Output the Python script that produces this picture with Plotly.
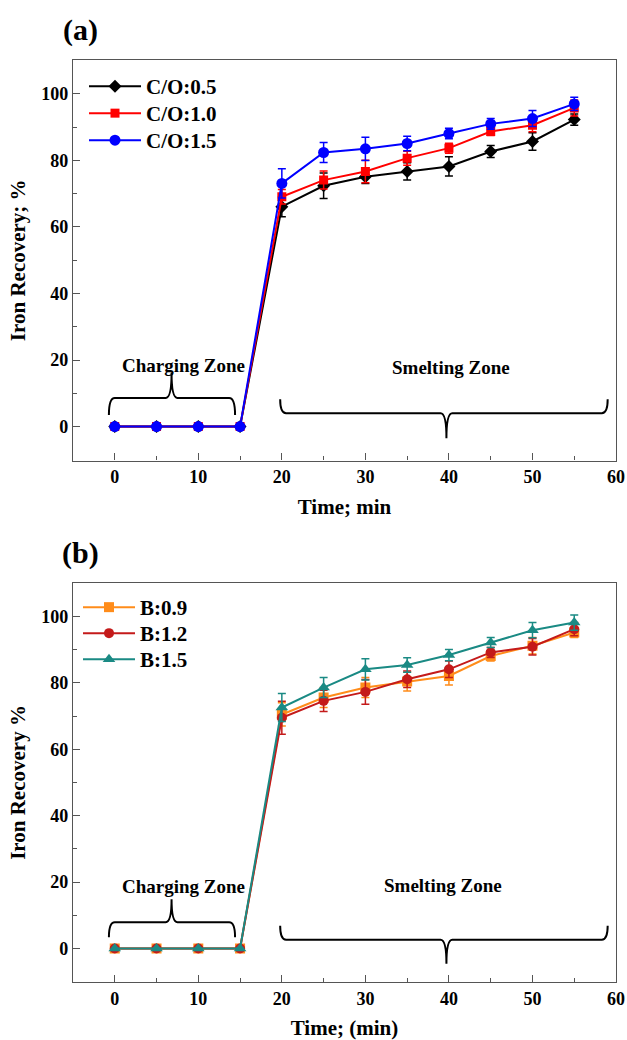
import plotly.graph_objects as go

# Sampling times (min)
TIME = [0, 5, 10, 15, 20, 25, 30, 35, 40, 45, 50, 55]

# (a) Iron recovery (%) for different C/O ratios
CO_05 = [0, 0, 0, 0, 66.1, 72.4, 75.1, 76.7, 78.2, 82.7, 85.7, 92.3]
CO_10 = [0, 0, 0, 0, 69.1, 74.1, 76.7, 80.7, 83.7, 88.7, 90.6, 95.8]
CO_15 = [0, 0, 0, 0, 73.1, 82.4, 83.5, 85.1, 88.1, 91.0, 92.6, 97.0]
CO_05_ERR = [0, 0, 0, 0, 3.0, 3.8, 2.0, 2.6, 2.9, 1.8, 2.6, 1.7]
CO_10_ERR = [0, 0, 0, 0, 2.2, 2.7, 3.4, 2.1, 1.5, 1.2, 2.0, 2.4]
CO_15_ERR = [0, 0, 0, 0, 4.4, 3.0, 3.5, 2.2, 1.6, 1.6, 2.4, 2.0]

# (b) Iron recovery (%) for different basicities
B_09 = [0, 0, 0, 0, 70.5, 75.6, 78.6, 80.4, 82.1, 88.1, 91.2, 95.2]
B_12 = [0, 0, 0, 0, 69.5, 74.6, 77.3, 81.1, 84.1, 89.2, 90.9, 96.2]
B_15 = [0, 0, 0, 0, 72.6, 78.6, 84.1, 85.4, 88.4, 92.2, 95.9, 98.2]
B_09_ERR = [0, 0, 0, 0, 3.5, 3.0, 3.0, 2.8, 2.7, 1.5, 2.5, 1.5]
B_12_ERR = [0, 0, 0, 0, 5.0, 3.2, 3.7, 2.5, 2.5, 1.5, 2.5, 2.0]
B_15_ERR = [0, 0, 0, 0, 4.2, 3.0, 3.2, 2.2, 1.7, 1.5, 2.3, 2.3]

X_TICKS = [0, 10, 20, 30, 40, 50, 60]
Y_TICKS = [0, 20, 40, 60, 80, 100]

FONT = "Times New Roman, Liberation Serif, serif"
AXIS_COLOR = "#555555"

fig = go.Figure()


def add_series(name, y, err, color, symbol, size, xa, ya, legend):
    fig.add_trace(go.Scatter(
        x=TIME, y=y, name=name, mode="lines+markers",
        line=dict(color=color, width=2),
        marker=dict(symbol=symbol, size=size, color=color),
        error_y=dict(type="data", array=err, visible=True, color=color,
                     thickness=1.5, width=4),
        xaxis=xa, yaxis=ya, legend=legend,
    ))


# Each series gets its own legend box so the rows can be spaced freely
add_series("C/O:0.5", CO_05, CO_05_ERR, "#000000", "diamond", 10, "x", "y", "legend")
add_series("C/O:1.0", CO_10, CO_10_ERR, "#ff0000", "square", 9, "x", "y", "legend2")
add_series("C/O:1.5", CO_15, CO_15_ERR, "#0000ff", "circle", 11, "x", "y", "legend3")

add_series("B:0.9", B_09, B_09_ERR, "#ff8c1a", "square", 10, "x2", "y2", "legend4")
add_series("B:1.2", B_12, B_12_ERR, "#c41a1a", "circle", 10, "x2", "y2", "legend5")
add_series("B:1.5", B_15, B_15_ERR, "#1a8a84", "triangle-up", 11, "x2", "y2", "legend6")

tick_font = dict(family=FONT, size=18, color="black", weight="bold")
title_font = dict(family=FONT, size=21, color="black", weight="bold")

axis_common = dict(
    showline=True, linecolor=AXIS_COLOR, linewidth=1.3, mirror=True,
    ticks="inside", ticklen=7, tickwidth=1.3, tickcolor=AXIS_COLOR,
    showgrid=False, zeroline=False, tickfont=tick_font, automargin=False,
)


def x_axis(title, anchor):
    return dict(axis_common, domain=[0.1164, 0.9825], range=[-5, 60],
                tickvals=X_TICKS, anchor=anchor,
                minor=dict(ticks="inside", ticklen=4, tickwidth=1.3,
                           tickcolor=AXIS_COLOR, dtick=5, tick0=0),
                title=dict(text=title, font=title_font, standoff=13))


def y_axis(domain, title, anchor):
    return dict(axis_common, domain=domain, range=[-10.2, 110.2],
                tickvals=Y_TICKS, anchor=anchor,
                minor=dict(ticks="inside", ticklen=4, tickwidth=1.3,
                           tickcolor=AXIS_COLOR, dtick=10, tick0=0),
                title=dict(text=title, font=title_font, standoff=9))


Y_DOMAIN_A = [0.5572, 0.9423]
Y_DOMAIN_B = [0.0555, 0.4397]


def brace(x0, x1, xt, y_line, y_end, y_tip, xref, yref, dx=0.7):
    """Curly brace from x0 to x1 with its point at xt."""
    path = (f"M{x0},{y_end} Q{x0},{y_line} {x0 + dx},{y_line} "
            f"L{xt - dx},{y_line} Q{xt},{y_line} {xt},{y_tip} "
            f"Q{xt},{y_line} {xt + dx},{y_line} "
            f"L{x1 - dx},{y_line} Q{x1},{y_line} {x1},{y_end}")
    return dict(type="path", path=path, xref=xref, yref=yref,
                line=dict(color="black", width=2))


shapes = [
    brace(-0.7, 14.4, 6.8, 8.6, 3.5, 16.1, "x", "y"),
    brace(19.8, 59.0, 39.7, 4.0, 8.2, -3.5, "x", "y"),
    brace(-0.7, 14.4, 6.8, 7.9, 3.4, 14.8, "x2", "y2"),
    brace(19.8, 59.0, 39.7, 2.6, 6.8, -4.6, "x2", "y2"),
]

zone_font = dict(family=FONT, size=19, color="black", weight="bold")
panel_font = dict(family=FONT, size=30, color="black", weight="bold")
annotations = [
    dict(text="Charging Zone", x=8.2, y=18.5, xref="x", yref="y",
         showarrow=False, font=zone_font),
    dict(text="Smelting Zone", x=40.3, y=17.8, xref="x", yref="y",
         showarrow=False, font=zone_font),
    dict(text="Charging Zone", x=8.2, y=18.8, xref="x2", yref="y2",
         showarrow=False, font=zone_font),
    dict(text="Smelting Zone", x=39.3, y=19.0, xref="x2", yref="y2",
         showarrow=False, font=zone_font),
    dict(text="(a)", x=80 / 627, y=1 - 30 / 1040, xref="paper", yref="paper",
         xanchor="center", yanchor="middle", showarrow=False, font=panel_font),
    dict(text="(b)", x=80 / 627, y=1 - 553 / 1040, xref="paper", yref="paper",
         xanchor="center", yanchor="middle", showarrow=False, font=panel_font),
]

legend_common = dict(
    font=dict(family=FONT, size=21, color="black", weight="bold"),
    bgcolor="rgba(0,0,0,0)", borderwidth=0, itemwidth=52,
    xanchor="left", yanchor="top", tracegroupgap=0,
)


def legend_at(x_px, top_px):
    return dict(legend_common, x=x_px / 627, y=1 - top_px / 1040)


fig.update_layout(
    width=627, height=1040,
    margin=dict(l=0, r=0, t=0, b=0),
    paper_bgcolor="white", plot_bgcolor="white",
    xaxis=x_axis("Time; min", "y"),
    yaxis=y_axis(Y_DOMAIN_A, "Iron Recovery; %", "x"),
    xaxis2=x_axis("Time; (min)", "y2"),
    yaxis2=y_axis(Y_DOMAIN_B, "Iron Recovery %", "x2"),
    legend=legend_at(84, 66),
    legend2=legend_at(84, 93),
    legend3=legend_at(84, 120),
    legend4=legend_at(78, 587),
    legend5=legend_at(78, 613),
    legend6=legend_at(78, 639),
    shapes=shapes,
    annotations=annotations,
    showlegend=True,
)

fig.write_html("out.html")
